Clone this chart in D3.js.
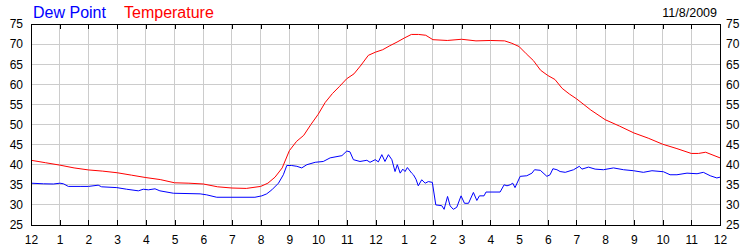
<!DOCTYPE html>
<html>
<head>
<meta charset="utf-8">
<script src="https://cdn.jsdelivr.net/npm/d3@7"></script>
<style>
  body { margin: 0; background: #fff; }
  text { font-family: Arial, "Liberation Sans", sans-serif; }
</style>
</head>
<body>
<div id="chart"></div>
<script>
// hour-of-day labels, 12 AM .. 12 AM
const hourLabels = [12, 1, 2, 3, 4, 5, 6, 7, 8, 9, 10, 11, 12, 1, 2, 3, 4, 5, 6, 7, 8, 9, 10, 11, 12];
const yTicks = [25, 30, 35, 40, 45, 50, 55, 60, 65, 70, 75];

const tempHours = [0, 0.5, 1, 1.5, 2, 2.5, 3, 3.5, 4, 4.5, 5, 5.5, 6, 6.5, 7, 7.5, 8, 8.25, 8.5, 8.75,
  9, 9.25, 9.5, 9.75, 10, 10.25, 10.5, 10.75, 11, 11.25, 11.5, 11.75, 12, 12.25, 12.5, 12.75,
  13, 13.25, 13.5, 13.75, 14, 14.5, 15, 15.5, 16, 16.5, 16.75, 17, 17.25, 17.5, 17.75, 18,
  18.25, 18.5, 18.75, 19, 19.5, 20, 20.5, 21, 21.5, 22, 22.5, 23, 23.25, 23.5, 24];
const tempValues = [41.1, 40.5, 39.9, 39.2, 38.7, 38.4, 38.0, 37.4, 36.8, 36.3, 35.5, 35.4, 35.2, 34.5, 34.2, 34.1, 34.6, 35.4, 36.9, 39.2,
  43.5, 45.8, 47.3, 50.0, 52.5, 55.5, 57.7, 59.5, 61.4, 62.6, 64.8, 67.2, 68.0, 68.6, 69.6, 70.5,
  71.5, 72.4, 72.4, 72.2, 71.1, 70.9, 71.2, 70.8, 70.9, 70.8, 70.2, 69.4, 67.6, 65.9, 63.5, 62.2,
  61.2, 59.0, 57.6, 56.4, 53.6, 51.2, 49.6, 47.9, 46.6, 45.1, 44.0, 42.8, 42.8, 43.1, 41.7];

const dewHours = [0, 0.43, 0.78, 1.01, 1.13, 1.3, 1.71, 2, 2.34, 2.46, 2.99, 3.33, 3.74, 3.91, 4.09, 4.32, 4.49, 4.96,
  5.89, 6.12, 6.47, 7.8, 8.04, 8.21, 8.39, 8.62, 8.79, 8.91, 9.08, 9.26, 9.43, 9.61, 9.9, 10.18, 10.42, 10.83,
  11, 11.11, 11.23, 11.46, 11.7, 11.81, 11.99, 12.1, 12.22, 12.33, 12.45, 12.57, 12.68, 12.76, 12.86, 12.95,
  13.03, 13.11, 13.26, 13.32, 13.41, 13.49, 13.61, 13.73, 13.84, 13.98, 14.1, 14.31, 14.39, 14.51, 14.6,
  14.71, 14.83, 14.98, 15.1, 15.24, 15.41, 15.53, 15.62, 15.78, 15.85, 16.34, 16.48, 16.58, 16.69, 16.78,
  16.86, 17.04, 17.27, 17.45, 17.54, 17.74, 17.97, 18.08, 18.18, 18.32, 18.43, 18.61, 18.9, 19.1, 19.19,
  19.42, 19.65, 19.94, 20.29, 20.64, 20.99, 21.33, 21.63, 22.03, 22.26, 22.5, 22.85, 23.2, 23.42, 23.66, 23.89, 24];
const dewValues = [35.4, 35.25, 35.2, 35.4, 35.25, 34.6, 34.6, 34.6, 34.9, 34.5, 34.3, 33.9, 33.5, 33.9, 33.75, 34.0, 33.5, 32.9,
  32.75, 32.5, 31.9, 31.9, 32.25, 32.75, 33.75, 35.4, 37.5, 39.8, 39.8, 39.6, 39.2, 40.0, 40.6, 40.8, 41.7, 42.25,
  43.4, 43.2, 41.25, 40.8, 41.1, 40.6, 41.25, 40.7, 42.5, 40.8, 42.5, 41.25, 38.3, 40.0, 37.9, 38.9,
  38.3, 39.3, 37.9, 37.5, 36.4, 34.75, 36.25, 35.4, 35.8, 35.6, 30.0, 29.8, 28.9, 32.1, 29.75,
  28.9, 29.4, 32.25, 30.4, 30.4, 33.1, 31.1, 32.25, 32.25, 33.2, 33.2, 35.0, 34.75, 35.0, 35.4,
  34.3, 37.1, 37.25, 37.9, 38.75, 38.6, 37.1, 37.5, 39.0, 38.75, 38.3, 38.1, 38.75, 39.6, 38.9,
  39.4, 38.9, 38.75, 39.2, 38.75, 38.5, 38.1, 38.5, 38.25, 37.5, 37.5, 37.9, 37.75, 38.1, 37.25, 36.7, 36.9];

const width = 750, height = 250;
const svg = d3.select('#chart').append('svg').attr('width', width).attr('height', height);

const x = d3.scaleLinear().domain([0, 24]).range([31, 720]);
const y = d3.scaleLinear().domain([25, 75]).range([225, 24]);

// grid
const grid = svg.append('g').attr('shape-rendering', 'crispEdges').attr('stroke', '#cccccc');
grid.selectAll('.vg').data(d3.range(1, 24)).enter().append('line')
  .attr('x1', d => x(d)).attr('x2', d => x(d)).attr('y1', y(75)).attr('y2', y(25));
grid.selectAll('.hg').data(yTicks.slice(1, -1)).enter().append('line')
  .attr('x1', x(0)).attr('x2', x(24)).attr('y1', d => y(d)).attr('y2', d => y(d));

// series
const line = d3.line().x(d => x(d[0])).y(d => y(d[1]));
svg.append('path').datum(d3.zip(tempHours, tempValues)).attr('d', line)
  .attr('fill', 'none').attr('stroke', '#ff0000').attr('stroke-width', 1);
svg.append('path').datum(d3.zip(dewHours, dewValues)).attr('d', line)
  .attr('fill', 'none').attr('stroke', '#0000ff').attr('stroke-width', 1);

// axes
const styleAxis = g => {
  g.attr('shape-rendering', 'crispEdges');
  g.select('.domain').attr('stroke', '#000');
  g.selectAll('.tick line').attr('stroke', '#000');
  g.selectAll('text').attr('font-size', 12).attr('fill', '#000')
    .attr('font-family', 'Arial, "Liberation Sans", sans-serif');
};
svg.append('g').attr('transform', `translate(0,${y(25)})`)
  .call(d3.axisBottom(x).tickValues(d3.range(0, 25)).tickFormat(d => hourLabels[d]).tickSize(-5).tickSizeOuter(0).tickPadding(10))
  .call(styleAxis);
svg.append('g').attr('transform', `translate(0,${y(75)})`)
  .call(d3.axisTop(x).tickValues(d3.range(0, 25)).tickFormat('').tickSize(-5).tickSizeOuter(0))
  .call(styleAxis);
svg.append('g').attr('transform', `translate(${x(0)},0)`)
  .call(d3.axisLeft(y).tickValues(yTicks).tickSize(0).tickPadding(8))
  .call(styleAxis);
svg.append('g').attr('transform', `translate(${x(24)},0)`)
  .call(d3.axisRight(y).tickValues(yTicks).tickSize(0).tickPadding(6))
  .call(styleAxis);

// legend + date
svg.append('text').attr('x', 33).attr('y', 18).attr('font-size', 16).attr('fill', '#0000ff').text('Dew Point');
svg.append('text').attr('x', 124).attr('y', 18).attr('font-size', 16).attr('fill', '#ff0000').text('Temperature');
svg.append('text').attr('x', 717).attr('y', 17).attr('text-anchor', 'end').attr('font-size', 12.5).attr('fill', '#000').text('11/8/2009');
</script>
</body>
</html>
